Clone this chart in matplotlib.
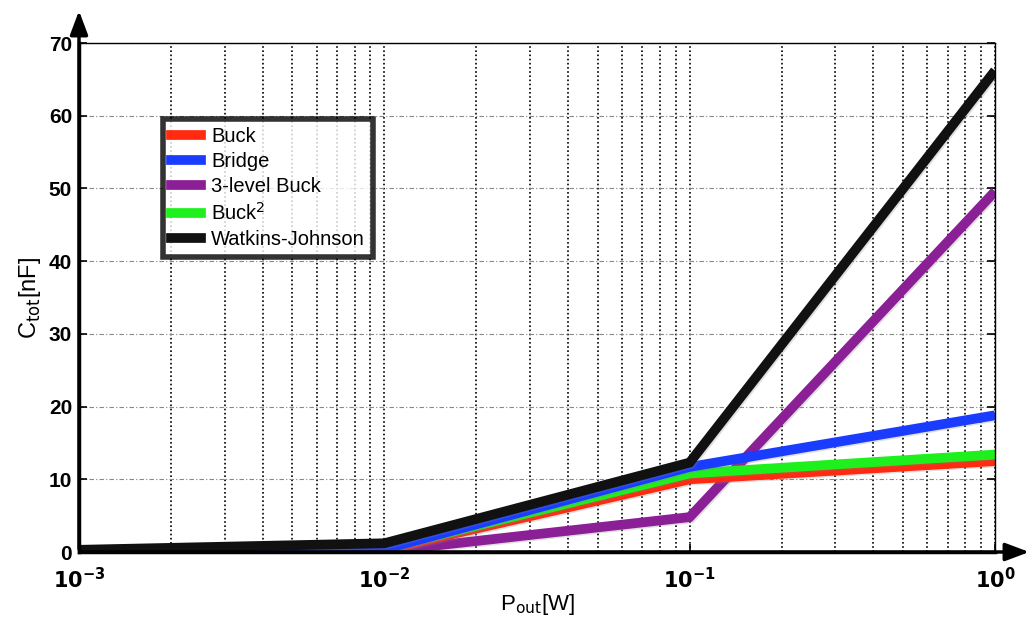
import matplotlib
matplotlib.use("Agg")
import matplotlib.pyplot as plt
import matplotlib.patheffects as pe
from matplotlib.lines import Line2D
import numpy as np

plt.rcParams['font.family'] = ['Liberation Sans', 'DejaVu Sans']

p_out = [1e-3, 1e-2, 1e-1, 1e0]
series_names = ["Buck", "Bridge", "3-level Buck", "Buck$^2$", "Watkins-Johnson"]
buck = [0.0, 0.3, 10.0, 12.5]
bridge = [0.0, 0.4, 11.7, 18.8]
three_level = [0.0, 0.1, 4.8, 49.6]
buck2 = [0.0, 0.5, 10.8, 13.4]
watkins = [0.3, 1.2, 12.3, 66.2]
colors = ["#ff2a10", "#1a3cff", "#8a1f96", "#1ef01e", "#111111"]
y_ticks = [0, 10, 20, 30, 40, 50, 60, 70]

fig = plt.figure(figsize=(10.35, 6.2), dpi=100)
ax = fig.add_axes([79/1035, 1-552/620, (995-79)/1035, (552-43)/620])
ax.set_xscale('log')
ax.set_xlim(1e-3, 1e0)
ax.set_ylim(0, 70)

# grids
ax.grid(True, which='major', axis='x', color='black', linestyle=(0, (1, 1.5)), linewidth=1.2)
ax.grid(True, which='minor', axis='x', color='black', linestyle=(0, (1, 1.5)), linewidth=1.2)
ax.grid(True, which='major', axis='y', color='#888888', linestyle=(0, (4, 2, 1, 2)), linewidth=0.8)
ax.set_axisbelow(True)

data = [buck, bridge, three_level, buck2, watkins]
order = [2, 0, 3, 1, 4]
for i in order:
    ax.plot(p_out, data[i], color=colors[i], linewidth=7, solid_capstyle='butt',
            solid_joinstyle='miter', label=series_names[i],
            path_effects=[pe.SimpleLineShadow(offset=(1, -1), alpha=0.25, shadow_color='gray'), pe.Normal()])

ax.set_yticks(y_ticks)
ax.set_yticklabels([str(v) for v in y_ticks], fontsize=15, fontweight='bold')
ax.set_xticks([1e-3, 1e-2, 1e-1, 1e0])
ax.set_xticklabels([r'$\mathbf{10^{-3}}$', r'$\mathbf{10^{-2}}$', r'$\mathbf{10^{-1}}$', r'$\mathbf{10^{0}}$'], fontsize=15)
ax.tick_params(axis='both', which='major', direction='in', length=6, width=1.2, right=True, top=False)
ax.tick_params(axis='x', which='minor', direction='in', length=3, top=False, bottom=False)
ax.tick_params(axis='x', which='major', pad=11)
ax.tick_params(axis='y', which='major', pad=5)

for s in ['left', 'bottom']:
    ax.spines[s].set_linewidth(2.5)
for s in ['top', 'right']:
    ax.spines[s].set_linewidth(1.0)

ax.set_ylabel(r'C$_{\mathrm{tot}}$[nF]', fontsize=17, labelpad=4)
ax.set_xlabel(r'P$_{\mathrm{out}}$[W]', fontsize=16, labelpad=0)

# arrows on axes
fig.patches.append(matplotlib.patches.FancyArrowPatch((79/1035, 1-552/620), (79/1035, 1-8/620),
    transform=fig.transFigure, arrowstyle='-|>,head_length=1.2,head_width=0.45', color='black', linewidth=2.5, mutation_scale=12))
fig.patches.append(matplotlib.patches.FancyArrowPatch((79/1035, 1-552/620), (1032/1035, 1-552/620),
    transform=fig.transFigure, arrowstyle='-|>,head_length=1.2,head_width=0.45', color='black', linewidth=2.5, mutation_scale=12))

hl = [Line2D([0], [0], color=colors[i], linewidth=7) for i in range(5)]
leg = ax.legend(hl, series_names, loc='upper left', bbox_to_anchor=((163-79)/916, (552-119)/509),
                fontsize=14.5, frameon=True, fancybox=False, handlelength=1.5, handletextpad=0.5,
                labelspacing=0.3, borderpad=0.4, borderaxespad=0)
leg.get_frame().set_edgecolor('black')
leg.get_frame().set_linewidth(4)

fig.savefig('out.png', dpi=100)
